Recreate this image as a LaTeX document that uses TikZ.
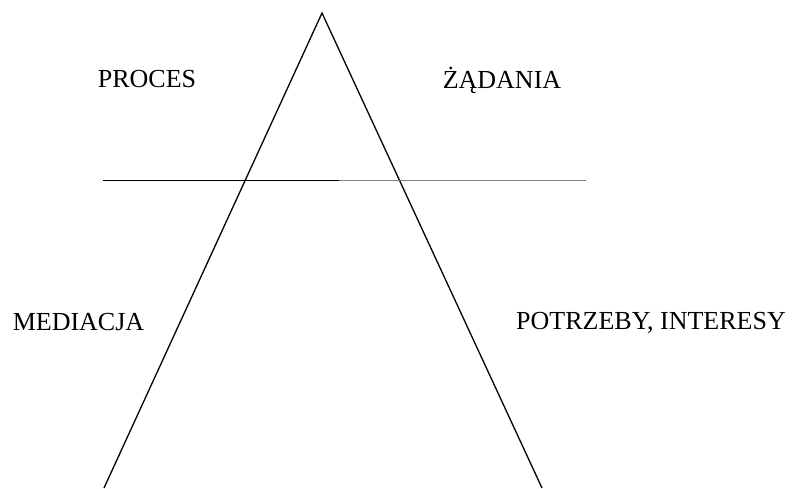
\documentclass[tikz,border=0pt]{standalone}
\usepackage{fontspec}
\setmainfont{Liberation Serif}
\usepackage{tikz}
\definecolor{linegray}{HTML}{7F7F7F}

\begin{document}
\begin{tikzpicture}[
  x=1pt, y=-1pt,
  label/.style={anchor=base, inner sep=0pt, font=\fontsize{26}{30}\selectfont},
  edge/.style={line width=1.3pt, draw=black}
]
\useasboundingbox (0,0) rectangle (793,488);
% triangle corners
\coordinate (apex) at (322,13);
\coordinate (footl) at (104,488);
\coordinate (footr) at (542,488);
% dividing line
\coordinate (cutl) at (103,180.5);
\coordinate (cutm) at (339,180.5);
\coordinate (cutr) at (586,180.5);
\draw[edge] (footl) -- (apex) -- (footr);
\draw[edge] (cutl) -- (cutm);
\draw[edge, draw=linegray] (cutm) -- (cutr);
% labels
\node[label] (proces) at (147,87) {PROCES};
\node[label] (zadania) at (502,88) {ŻĄDANIA};
\node[label] (mediacja) at (78.5,330) {MEDIACJA};
\node[label] (potrzeby) at (651,329) {POTRZEBY, INTERESY};
\end{tikzpicture}
\end{document}
